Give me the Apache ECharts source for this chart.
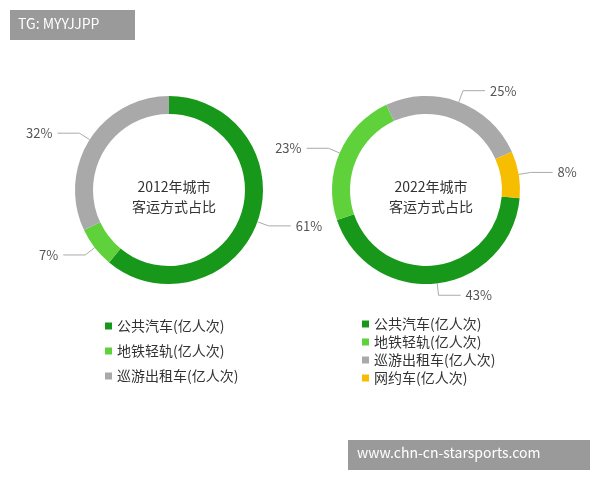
<!DOCTYPE html>
<html><head><meta charset="utf-8">
<script src="https://cdn.jsdelivr.net/npm/echarts@6/dist/echarts.min.js"></script>
<style>html,body{margin:0;background:#fff}#c{width:600px;height:480px}</style>
</head><body><div id="c"></div>
<script>
const names2012 = ['公共汽车(亿人次)','地铁轻轨(亿人次)','巡游出租车(亿人次)'];
const values2012 = [61,7,32];
const names2022 = ['公共汽车(亿人次)','地铁轻轨(亿人次)','巡游出租车(亿人次)','网约车(亿人次)'];
const values2022 = [43,23,25,8];
const colors = ['#18981a','#5fd13a','#a9a9a9','#f7bd00'];
const ff = '"Noto Sans CJK SC","Noto Sans",sans-serif';
const chart = echarts.init(document.getElementById('c'));
function ser(names, vals, cx, start, title){
  return {type:'pie', radius:[76,94], center:[cx,190], startAngle:start, clockwise:true,
    data:names.map((n,i)=>({name:n,value:vals[i],itemStyle:{color:colors[i]}})),
    label:{show:true, position:'outside', formatter:p=>p.value+'%', color:'#555', fontSize:13, fontFamily:ff},
    labelLine:{show:true,length:12,length2:22,lineStyle:{color:'#aaa',width:1}},
    emphasis:{disabled:true}, silent:true};
}
chart.setOption({
  animation:false,
  title:[
    {text:'2012年城市\n客运方式占比',left:169,top:172,textAlign:'center',textStyle:{fontSize:14,fontWeight:'normal',color:'#333',lineHeight:20,fontFamily:ff}},
    {text:'2022年城市\n客运方式占比',left:426,top:172,textAlign:'center',textStyle:{fontSize:14,fontWeight:'normal',color:'#333',lineHeight:20,fontFamily:ff}}
  ],
  legend:[
    {orient:'vertical',left:100,top:314,itemGap:11,itemWidth:7,itemHeight:7,icon:'rect',data:names2012,textStyle:{fontSize:14,color:'#333',fontFamily:ff}},
    {orient:'vertical',left:357,top:312,itemGap:4,itemWidth:7,itemHeight:7,icon:'rect',data:names2022,textStyle:{fontSize:14,color:'#333',fontFamily:ff}}
  ],
  series:[ser(names2012,values2012,169,90),ser(names2022,values2022,426,-5)],
  graphic:[
    {type:'rect',left:10,top:10,shape:{width:125,height:30},style:{fill:'#9a9a9a'}},
    {type:'text',left:18,top:17,style:{text:'TG: MYYJJPP',fill:'#fff',fontSize:14,fontFamily:ff}},
    {type:'rect',left:348,top:440,shape:{width:242,height:30},style:{fill:'#9a9a9a'}},
    {type:'text',left:357,top:446,style:{text:'www.chn-cn-starsports.com',fill:'#fff',fontSize:14,fontFamily:ff}}
  ]
});
</script></body></html>
